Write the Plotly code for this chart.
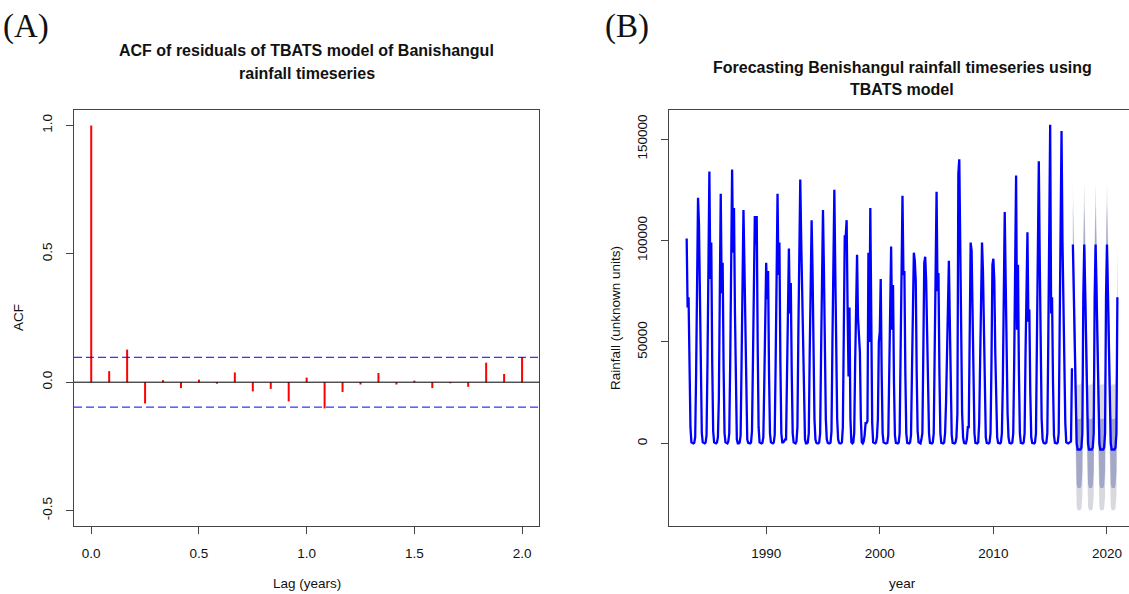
import plotly.graph_objects as go

# ---------------- data ----------------
# (A) ACF of TBATS residuals, lags in months (plotted in years)
acf_lag_months = list(range(25))
acf_values = [1.0, 0.043, 0.127, -0.083, 0.008, -0.023, 0.010, -0.006, 0.038,
              -0.036, -0.026, -0.075, 0.018, -0.102, -0.038, -0.009, 0.036,
              -0.009, 0.006, -0.023, -0.004, -0.018, 0.076, 0.032, 0.097]
conf_limit = 0.097
acf_xticks = [0.0, 0.5, 1.0, 1.5, 2.0]
acf_xticklabels = ["0.0", "0.5", "1.0", "1.5", "2.0"]
acf_yticks = [-0.5, 0.0, 0.5, 1.0]
acf_yticklabels = ["-0.5", "0.0", "0.5", "1.0"]

# (B) Monthly rainfall (thousands), Jan 1983 .. Dec 2016
rain_1983_1989 = [
    101, 67, 72, 35, 8, 0.5, 0, 0, 0.3, 3, 35, 90,
    121, 108, 68, 28, 5, 0.5, 0, 0, 0.5, 4, 40, 95,
    134, 81, 99, 40, 6, 0.5, 0, 0, 0.5, 3, 22, 63,
    123, 74, 89, 38, 5, 0.5, 0, 0, 1, 5, 40, 90,
    135, 94, 116, 65, 20, 2, 0, 0, 0.5, 4, 40, 85,
    115, 88, 50, 15, 2, 0.3, 0, 0, 0.5, 6, 40, 85,
    112, 98, 112, 50, 8, 0.5, 0, 0, 0.3, 3, 30, 70,
]
rain_1990_1999 = [
    89, 71, 85, 35, 5, 0.5, 0, 0, 0.5, 4, 40, 88,
    123, 83, 99, 40, 5, 0.5, 0.5, 1, 2, 2, 30, 70,
    96, 64, 79, 35, 5, 0.5, 0, 0, 1, 8, 55, 102,
    130, 100, 70, 40, 15, 2, 0, 0, 0.5, 5, 45, 88,
    110, 84, 45, 12, 2, 0.3, 0, 0, 0.5, 5, 45, 92,
    115, 85, 45, 12, 2, 0.3, 0, 0, 0.5, 6, 50, 98,
    125, 85, 45, 12, 2, 0.3, 0, 0, 0.5, 8, 55, 102,
    102, 110, 67, 33, 67, 12, 0.5, 0, 0.5, 5, 40, 80,
    93, 62, 55, 45, 12, 0.5, 0, 1, 4, 10, 10, 11,
    94, 50, 116, 55, 10, 0.5, 0, 0, 0.5, 3, 12, 50,
]
rain_2000_2009 = [
    55, 81, 35, 5, 0.5, 0, 0, 0, 0.3, 4, 40, 85,
    97, 56, 78, 30, 4, 0.3, 0, 0, 0.5, 5, 45, 90,
    122, 83, 85, 35, 5, 0.3, 0, 0, 0.5, 4, 35, 75,
    94, 90, 80, 35, 6, 0.5, 0, 0, 2, 5, 45, 89,
    92, 80, 55, 25, 5, 0.3, 0, 0, 0.5, 5, 45, 95,
    124, 75, 84, 35, 5, 0.3, 0, 0, 0.5, 5, 20, 50,
    70, 90, 60, 25, 4, 0.3, 0, 0, 0.5, 3, 15, 133,
    140, 95, 50, 15, 3, 0.3, 0, 0, 2, 8, 8, 60,
    99, 95, 70, 30, 5, 0.3, 0, 0, 0.5, 10, 40, 75,
    99, 85, 50, 15, 3, 0.3, 0, 0, 0.5, 5, 40, 88,
]
rain_2010_2016 = [
    91, 80, 45, 15, 3, 0.3, 0, 0, 0.5, 5, 30, 70,
    114, 80, 45, 15, 3, 0.3, 0, 0, 0.5, 5, 40, 90,
    132, 56, 88, 35, 5, 0.3, 0, 0, 0.5, 5, 45, 90,
    104, 60, 66, 25, 3, 0.3, 0, 0, 0.5, 5, 50, 100,
    139, 90, 45, 12, 2, 0.3, 0, 0, 0.5, 5, 50, 110,
    157, 64, 72, 30, 4, 0.3, 0, 0, 0.5, 5, 55, 110,
    154, 100, 60, 45, 10, 0.5, 0, 0, 0.3, 0.5, 1, 37,
]
hist_start_year = 1983

# TBATS forecast (thousands), Jan 2017 .. Dec 2020
fc_start_year = 2017
fc_mean = [98, 75, 48, 20, 0, -3, -3, -3, -3, -2, 5, 72,
           98, 75, 48, 20, 0, -3, -3, -3, -3, -2, 5, 72,
           98, 75, 48, 20, 0, -3, -3, -3, -3, -2, 5, 72,
           98, 75, 48, 20, 0, -3, -3, -3, -3, -2, 5, 72]
fc_hi80 = [118, 95, 68, 38, 14, 12, 12, 12, 12, 13, 22, 92,
           118, 95, 68, 38, 14, 12, 12, 12, 12, 13, 22, 92,
           118, 95, 68, 38, 14, 12, 12, 12, 12, 13, 22, 92,
           118, 95, 68, 38, 14, 12, 12, 12, 12, 13, 22, 92]
fc_lo80 = [78, 55, 28, 2, -20, -22, -22, -22, -22, -21, -14, 52,
           78, 55, 28, 2, -20, -22, -22, -22, -22, -21, -14, 52,
           78, 55, 28, 2, -20, -22, -22, -22, -22, -21, -14, 52,
           78, 55, 28, 2, -20, -22, -22, -22, -22, -21, -14, 52]
fc_hi95 = [129, 106, 79, 50, 28, 29, 29, 29, 29, 30, 36, 103,
           129, 106, 79, 50, 28, 29, 29, 29, 29, 30, 36, 103,
           129, 106, 79, 50, 28, 29, 29, 29, 29, 30, 36, 103,
           129, 106, 79, 50, 28, 29, 29, 29, 29, 30, 36, 103]
fc_lo95 = [67, 44, 17, -10, -31, -33, -33, -33, -33, -32, -26, 41,
           67, 44, 17, -10, -31, -33, -33, -33, -33, -32, -26, 41,
           67, 44, 17, -10, -31, -33, -33, -33, -33, -32, -26, 41,
           67, 44, 17, -10, -31, -33, -33, -33, -33, -32, -26, 41]

rain_yticks = [0, 50000, 100000, 150000]
rain_yticklabels = ["0", "50000", "100000", "150000"]
year_ticks = [1990, 2000, 2010, 2020]

# ---------------- layout geometry (pixels) ----------------
W, H = 1129, 594
TOP, BOT = 110, 526
LX0, LX1 = 74, 539.3
RX0 = 669.4

def px(x):
    return x / W

def py(y):
    return (BOT - y) / (BOT - TOP)

SANS = "Liberation Sans, Arial, Helvetica, sans-serif"
SERIF = "Liberation Serif, DejaVu Serif, serif"
TXT = "#111111"

fig = go.Figure()

# ---- (A) ACF spikes ----
xs, ys = [], []
for m, v in zip(acf_lag_months, acf_values):
    xs += [m / 12, m / 12, None]
    ys += [0, v, None]
fig.add_trace(go.Scatter(x=xs, y=ys, mode="lines",
                         line=dict(color="#FF0000", width=2),
                         xaxis="x", yaxis="y", showlegend=False,
                         hoverinfo="skip"))

# ---- (B) prediction intervals ----
t_fc = [fc_start_year + i / 12 for i in range(len(fc_mean))]
fig.add_trace(go.Scatter(
    x=t_fc + t_fc[::-1],
    y=[v * 1000 for v in fc_hi95] + [v * 1000 for v in fc_lo95[::-1]],
    fill="toself", fillcolor="#D8D9DF", line=dict(width=0),
    mode="lines", xaxis="x2", yaxis="y2", showlegend=False, hoverinfo="skip"))
fig.add_trace(go.Scatter(
    x=t_fc + t_fc[::-1],
    y=[v * 1000 for v in fc_hi80] + [v * 1000 for v in fc_lo80[::-1]],
    fill="toself", fillcolor="#A3A8C9", line=dict(width=0),
    mode="lines", xaxis="x2", yaxis="y2", showlegend=False, hoverinfo="skip"))

rain = rain_1983_1989 + rain_1990_1999 + rain_2000_2009 + rain_2010_2016
t_hist = [hist_start_year + i / 12 for i in range(len(rain))]
fig.add_trace(go.Scatter(x=t_hist, y=[v * 1000 for v in rain], mode="lines",
                         line=dict(color="#0000FF", width=2.3),
                         xaxis="x2", yaxis="y2", showlegend=False,
                         hoverinfo="skip"))
fig.add_trace(go.Scatter(x=t_fc, y=[v * 1000 for v in fc_mean], mode="lines",
                         line=dict(color="#0000FF", width=2.3),
                         xaxis="x2", yaxis="y2", showlegend=False,
                         hoverinfo="skip"))

axis_common = dict(showline=True, linecolor="#444444", linewidth=1,
                   ticks="outside", ticklen=7, tickcolor="#444444",
                   tickwidth=1, showgrid=False, zeroline=False,
                   tickfont=dict(family=SANS, size=13.5, color=TXT),
                   automargin=False)

fig.update_layout(
    width=W, height=H,
    margin=dict(l=0, r=0, t=TOP, b=H - BOT, pad=0),
    paper_bgcolor="white", plot_bgcolor="white",
    showlegend=False,
    xaxis=dict(domain=[px(LX0), px(LX1)], range=[-0.08, 2.08],
               tickvals=acf_xticks, ticktext=acf_xticklabels,
               mirror=True, anchor="y", ticklabelstandoff=8, **axis_common),
    yaxis=dict(domain=[0, 1], range=[-0.56, 1.06],
               tickvals=acf_yticks, ticktext=acf_yticklabels,
               tickangle=-90, mirror=True, anchor="x",
               ticklabelstandoff=9, **axis_common),
    xaxis2=dict(domain=[px(RX0), 1.0], range=[1981.48, 2021.94],
                tickvals=year_ticks, ticktext=[str(y) for y in year_ticks],
                mirror=True, anchor="y2", ticklabelstandoff=8, **axis_common),
    yaxis2=dict(domain=[0, 1], range=[-40700, 164300],
                tickvals=rain_yticks, ticktext=rain_yticklabels,
                tickangle=-90, mirror=False, anchor="x2",
                ticklabelstandoff=9, **axis_common),
)

# reference lines in ACF panel
fig.add_shape(type="line", xref="x domain", yref="y", x0=0, x1=1, y0=0, y1=0,
              line=dict(color="#000000", width=1))
for c in (conf_limit, -conf_limit):
    fig.add_shape(type="line", xref="x domain", yref="y", x0=0, x1=1,
                  y0=c, y1=c, line=dict(color="#0000FF", width=1, dash="8px,4px"))

def ann(text, x, y, size, family=SANS, angle=0):
    fig.add_annotation(text=text, xref="paper", yref="paper",
                       x=px(x), y=py(y), xanchor="center", yanchor="middle",
                       showarrow=False, textangle=angle,
                       font=dict(family=family, size=size, color=TXT))

# panel letters
ann("(A)", 26, 26, 33, family=SERIF)
ann("(B)", 627, 26, 33, family=SERIF)

# titles
ann("<b>ACF of residuals of TBATS model of Banishangul</b>", (LX0 + LX1) / 2, 50, 16)
ann("<b>rainfall timeseries</b>", (LX0 + LX1) / 2, 73, 16)
ann("<b>Forecasting Benishangul rainfall timeseries using</b>", 902, 68, 16)
ann("<b>TBATS model</b>", 902, 89, 16)

# axis titles
ann("Lag (years)", (LX0 + LX1) / 2, 583, 13.5)
ann("ACF", 18, 318, 13.5, angle=-90)
ann("year", 902, 583, 13.5)
ann("Rainfall (unknown units)", 615, 318, 13.5, angle=-90)

fig.write_html("out.html")
